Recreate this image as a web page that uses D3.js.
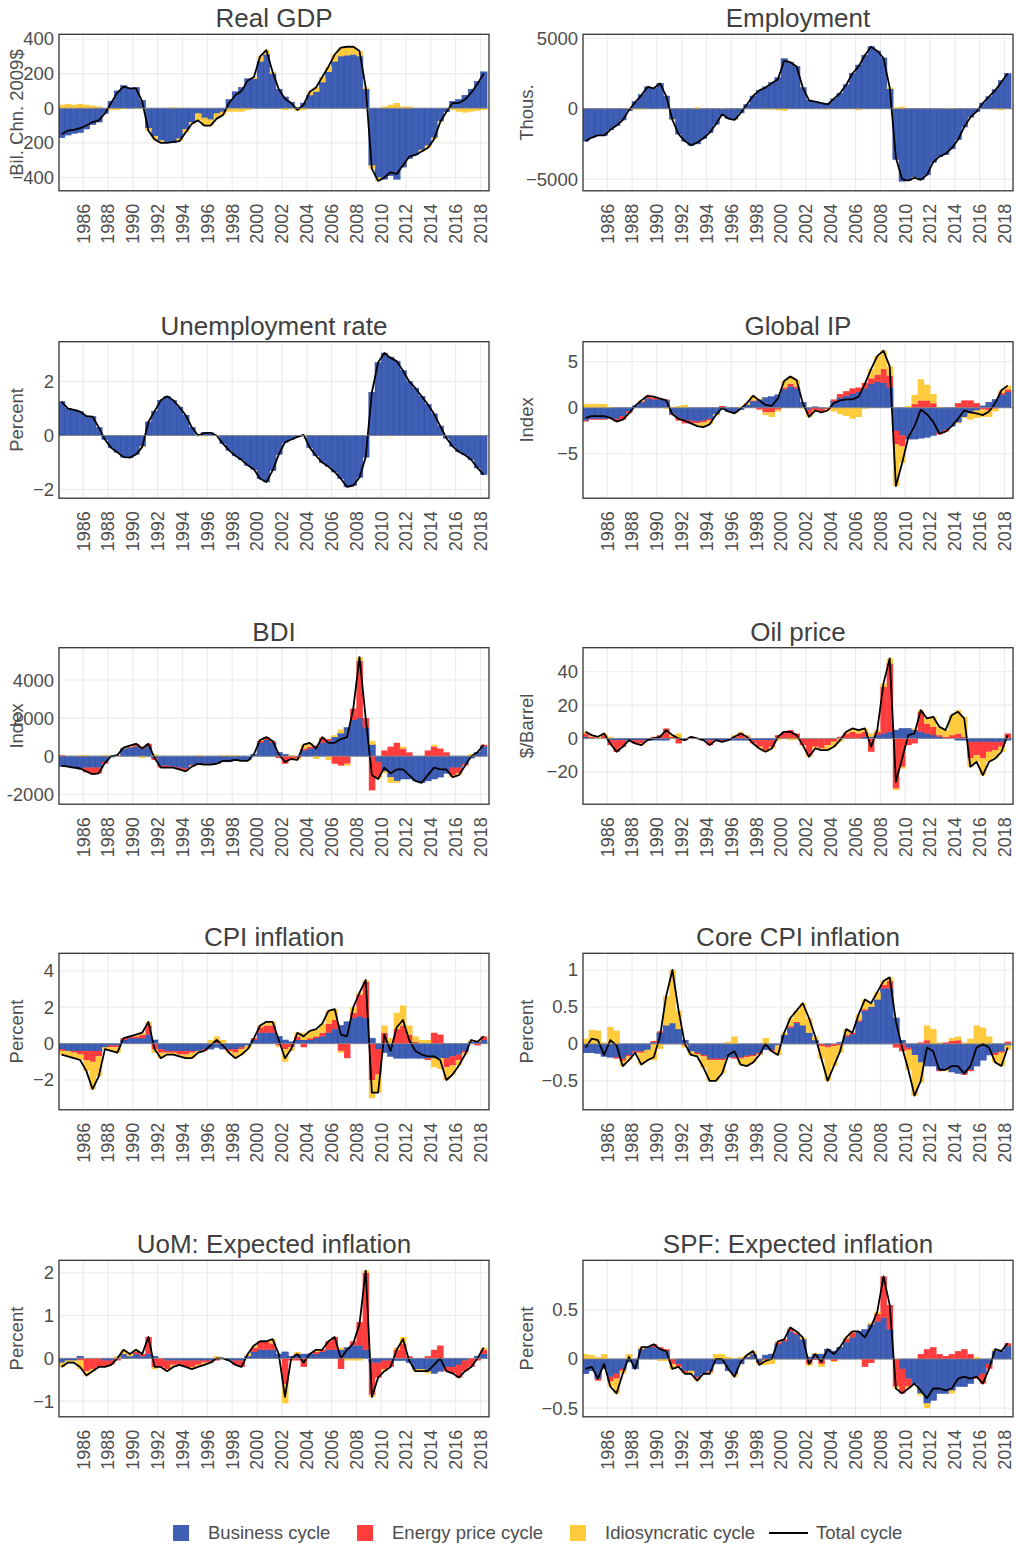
<!DOCTYPE html>
<html><head><meta charset="utf-8">
<script src="https://cdn.jsdelivr.net/npm/d3@7"></script>
<style>body{margin:0;background:#fff} text{font-family:"Liberation Sans",Arial,sans-serif}</style>
</head><body>
<svg id="chart" width="1016" height="1547"></svg>
<script>
// Half-year periods 1984H1 ... 2018H1
const periodStart = 1984, periodStep = 0.5, periodCount = 69;
const yearTicks = [1986,1988,1990,1992,1994,1996,1998,2000,2002,2004,2006,2008,2010,2012,2014,2016,2018];
const seriesNames = ["Business cycle","Energy price cycle","Idiosyncratic cycle","Total cycle"];

const gdpBusiness = [-170,-155,-145,-140,-120,-95,-80,-30,40,100, 130,115,120,45,-115,-160,-185,-195,-200,-175, -120,-80,-30,-55,-65,-30,-20,50,95,120, 170,170,270,310,200,110,65,35,5,30, 75,95,150,210,270,300,305,310,300,110, -330,-400,-410,-390,-410,-340,-290,-270,-240,-215, -170,-75,-20,40,50,75,110,155,210];
const gdpIdio = [20,25,20,25,20,15,10,0,-10,-10, -5,0,-5,-5,-15,-20,-15,-5,5,-15, -20,-10,-40,-45,-35,-30,-20,-20,-20,-20, -10,10,30,25,10,0,-10,-5,-15,-10, 20,25,30,30,40,50,50,45,30,10, -20,-20,10,20,30,10,10,0,-10,-15, -10,-5,0,-10,-20,-25,-20,-15,-10];

const empBusiness = [-2300,-2050,-1900,-1900,-1500,-1200,-800,-150,500,1000, 1550,1450,1800,900,-750,-1800,-2300,-2600,-2500,-2100, -1700,-1100,-450,-700,-750,-300,300,900,1300,1550, 1850,2200,3550,3300,3000,1500,600,500,400,350, 700,1100,1700,2500,3100,3800,4400,4100,3600,1400, -3600,-5150,-5100,-4850,-5050,-4700,-3800,-3400,-3250,-2850, -2200,-1300,-600,-200,400,850,1350,2000,2500];
const empIdio = [0,0,0,0,0,0,0,50,-50,-50, 0,0,0,0,-50,0,0,0,100,0, 0,0,50,0,-50,0,0,0,0,-50, -50,-100,-150,0,0,0,0,0,0,-50, 0,0,0,0,-100,0,0,0,0,100, 100,150,0,-50,0,0,0,0,50,50, 0,0,0,0,0,0,-50,-100,0];

const unempBusiness = [1.25,1.0,0.95,0.88,0.72,0.7,0.3,-0.15,-0.45,-0.62, -0.8,-0.82,-0.7,-0.4,0.5,0.9,1.3,1.45,1.3,1.05, 0.75,0.3,0.0,0.12,0.1,0.0,-0.3,-0.55,-0.75,-0.9, -1.1,-1.25,-1.6,-1.72,-1.3,-0.7,-0.25,-0.15,-0.05,0.0, -0.45,-0.75,-1.0,-1.15,-1.35,-1.6,-1.9,-1.85,-1.55,-0.8, 1.6,2.7,3.05,2.9,2.75,2.4,2.0,1.75,1.45,1.15, 0.8,0.35,-0.1,-0.4,-0.6,-0.72,-0.9,-1.2,-1.45];
const unempIdio = [0,0,0,0,0,0,0,0,0,0, 0,0,0,-0.03,0,0,0,0,0,0, 0,0,0,-0.03,0,0,0,0,0,0, 0,0,0,0,0,0,0,0,0,0.02, 0,0,0,0,0,0,0,0,0,0, 0,0,0,-0.03,0,0,0,0,0,0, 0,0,0,0,0,0,0,0,0];

const ipBusiness = [-1.4,-1.2,-1.2,-1.2,-1.1,-1.2,-0.9,-0.4,0.2,0.6, 1.0,0.9,0.9,0.8,-0.7,-1.1,-1.3,-1.4,-1.5,-1.4, -1.2,-0.7,-0.2,-0.4,-0.5,-0.2,0.3,0.7,0.9,1.1, 1.2,1.4,2.0,2.3,2.1,0.6,-0.2,0.1,-0.1,0.0, 0.7,1.1,1.3,1.5,1.7,2.1,2.6,2.8,2.7,2.2, -2.5,-3.0,-3.4,-3.4,-3.3,-3.2,-3.0,-2.7,-2.4,-2.0, -1.6,-1.0,-0.6,-0.3,0.2,0.6,0.9,1.4,1.7];
const ipEnergy = [-0.1,-0.1,-0.1,-0.1,-0.1,-0.3,-0.4,-0.2,0.0,0.1, 0.2,0.2,0.1,0.1,-0.1,-0.3,-0.4,-0.3,-0.2,-0.2, -0.2,0.0,0.2,0.0,0.0,0.0,0.0,0.1,-0.2,-0.5, -0.5,-0.2,0.2,0.3,0.2,0.0,-0.5,-0.3,-0.3,-0.2, 0.2,0.4,0.5,0.6,0.5,0.6,0.6,0.8,1.5,1.3, -1.5,-1.2,0.0,0.4,0.8,0.8,0.5,-0.2,-0.2,0.0, 0.5,0.8,0.8,0.5,-0.2,-0.3,-0.1,0.2,0.3];
const ipIdio = [0.4,0.4,0.4,0.4,0.1,0.0,0.0,0.0,0.0,0.1, 0.1,0.1,0.0,-0.1,0.1,0.2,0.3,0.0,-0.3,-0.5, -0.4,-0.1,0.0,0.0,-0.1,0.1,0.2,0.5,0.1,-0.3, -0.5,-0.2,0.7,0.8,0.7,-0.1,-0.3,-0.1,-0.1,-0.1, -0.4,-0.7,-0.9,-1.2,-1.0,-0.1,1.0,2.0,2.0,1.0, -4.5,-1.8,0.2,1.0,2.3,1.7,1.0,0.1,0.0,0.0, -0.1,-0.1,-0.7,-0.8,-0.8,-0.7,-0.3,0.3,0.4];

const bdiBusiness = [-550,-550,-620,-650,-600,-600,-600,-300,-50,0, 400,450,500,400,500,-100,-500,-500,-550,-600, -650,-450,-450,-400,-400,-400,-300,-300,-200,-200, -200,100,700,850,700,200,100,0,0,300, 400,500,700,800,1000,1200,1500,1900,2000,1500, 600,-300,-800,-1100,-1300,-1200,-1200,-1300,-1400,-1300, -1200,-1100,-900,-600,-600,-400,-100,200,500];
const bdiEnergy = [50,0,0,-50,-250,-350,-300,-100,0,50, 0,50,150,100,150,-100,-100,-100,-50,-100, -100,-50,0,-50,-50,0,0,0,-50,-50, 0,0,100,150,100,-100,-400,-200,-100,100, 100,50,250,100,-400,-500,-400,600,3000,500, -1800,-800,300,500,700,400,200,0,0,300, 500,400,200,-400,-300,-100,0,0,100];
const bdiIdio = [0,0,20,50,50,0,0,50,50,0, 50,50,0,-100,0,100,0,0,0,0, -50,-50,50,0,0,0,50,50,50,0, -50,0,50,0,0,0,0,50,-100,200, 200,-150,50,-200,100,200,-100,0,200,0, 200,-100,-100,-300,-100,100,0,0,0,0, 100,0,0,-100,-100,0,100,0,0];

const oilBusiness = [1,0,0,0,-1,-1,-1,-1,-1,-1, -1,-1,-1,-1,0,0,0,0,0,-1, -1,-1,-1,-1,-1,-1,-1,-1,-1,-1, -1,0,0,0,0,0,0,0,0,0, 0,0,0,0,0,1,1,2,3,4, 5,6,6,5,4,3,2,1,0,0, -1,-1,-2,-2,-2,-2,-2,-2,-1];
const oilEnergy = [2,1,0,2,-3,-7,-4,0,-2,-2, 0,1,2,6,1,-3,-1,1,0,0, -3,0,-1,0,1,3,1,-2,-4,-6, -4,2,4,5,3,-4,-10,-5,-6,-4, -2,1,3,4,3,3,-8,2,28,41, -30,-17,-4,-3,12,6,5,1,1,2, 3,1,-10,-8,-10,-6,-5,-3,3];
const oilIdio = [1,1,1,1,1,0,0,0,0,-1, 0,0,0,0,1,3,0,0,0,0, 0,0,0,0,1,1,1,0,-1,-1, -1,-1,0,-1,-1,0,-1,-1,-1,-3, -3,-2,1,2,2,2,2,1,2,3, -1,-1,0,1,1,3,6,5,4,12, 14,12,-5,-4,-10,-6,-5,-3,0];

const cpiBusiness = [-0.3,-0.4,-0.4,-0.4,-0.4,-0.4,-0.4,-0.2,-0.1,-0.1, 0.2,0.3,0.3,0.3,0.5,0.2,-0.3,-0.4,-0.4,-0.4, -0.4,-0.4,-0.4,-0.3,-0.3,-0.2,-0.3,-0.3,-0.3,-0.2, -0.1,0.2,0.6,0.6,0.6,0.4,0.2,0.1,0.2,0.2, 0.2,0.3,0.4,0.6,0.8,1.0,1.2,1.4,1.5,1.4, 0.3,-0.3,-0.5,-0.7,-0.8,-0.8,-0.8,-0.8,-0.8,-0.8, -0.8,-0.8,-0.8,-0.7,-0.6,-0.4,0.1,0.1,0.2];
const cpiEnergy = [-0.1,0.0,-0.1,-0.2,-0.5,-0.6,-0.3,0.0,-0.1,-0.1, 0.1,0.1,0.1,0.2,0.5,-0.3,-0.2,-0.1,-0.1,-0.2, -0.2,-0.1,0.0,-0.1,0.0,0.1,0.0,-0.1,-0.2,-0.1, 0.0,0.1,0.3,0.4,0.4,-0.1,-0.3,-0.2,0.2,-0.2, 0.1,0.1,0.2,0.5,0.5,-0.4,-0.8,0.3,1.2,2.0, -2.0,-1.4,0.6,0.0,0.8,1.0,0.5,0.1,0.0,-0.1, 0.6,0.5,-0.5,-0.5,-0.3,-0.1,0.0,-0.1,0.2];
const cpiIdio = [-0.2,-0.3,-0.3,-0.3,-0.6,-1.5,-1.1,-0.1,-0.2,-0.3, 0.0,0.0,0.1,0.1,0.2,-0.2,-0.3,-0.1,-0.1,-0.1, -0.2,-0.3,-0.1,0.0,0.2,0.3,0.2,-0.1,-0.3,-0.3, -0.2,0.0,0.1,0.2,0.2,-0.1,-0.7,-0.2,0.2,0.4, 0.4,0.4,0.5,0.7,0.6,-0.1,0.0,0.3,0.1,0.1, -1.0,-1.0,0.4,0.3,0.9,1.1,0.5,0.3,0.2,0.2, -0.5,-0.6,-0.7,-0.5,-0.3,-0.1,0.1,0.1,0.0];

const coreBusiness = [-0.12,-0.12,-0.13,-0.17,-0.18,-0.18,-0.2,-0.15,-0.1,-0.1, -0.08,0.02,0.15,0.25,0.28,0.2,0.05,-0.1,-0.12,-0.15, -0.2,-0.2,-0.2,-0.18,-0.18,-0.18,-0.16,-0.15,-0.12,-0.08, -0.08,-0.02,0.12,0.22,0.28,0.25,0.15,0.05,0.0,-0.02, 0.0,0.02,0.1,0.13,0.3,0.45,0.5,0.6,0.75,0.75, 0.35,0.05,-0.05,-0.15,-0.25,-0.3,-0.3,-0.35,-0.35,-0.38, -0.4,-0.4,-0.35,-0.3,-0.22,-0.15,-0.12,-0.1,-0.02];
const coreEnergy = [0,0,0,0,0,-0.02,-0.03,-0.02,-0.02,-0.02, 0,0.02,0.02,0,0,0,-0.02,0,-0.02,-0.02, -0.02,-0.02,-0.02,0,-0.02,-0.02,-0.02,-0.02,-0.02,0, -0.02,0,0,0.02,0.02,0,0,0,-0.03,-0.03, -0.03,-0.02,0.02,0.02,0.02,0.02,0,0,0.05,0.1, -0.05,-0.1,-0.03,0,0.02,0.05,0,-0.02,0.02,0.04, 0.05,-0.02,-0.02,0,0,0,-0.03,-0.02,0.03];
const coreIdio = [0.07,0.19,0.18,0.02,0.23,0.18,-0.07,-0.05,0,-0.16, -0.14,-0.22,-0.07,0.4,0.72,0.25,-0.03,-0.05,-0.03,-0.15, -0.28,-0.28,-0.18,0.03,0.1,-0.08,-0.12,-0.08,-0.01,0.08, 0,-0.13,0.03,0.11,0.15,0.3,0.2,0.05,-0.17,-0.45, -0.27,-0.1,0.08,0,0.08,0.13,0.05,0.1,0.05,0.05, 0,0,-0.27,-0.55,-0.27,0.2,0.2,0.02,-0.02,0.04, 0.05,0.02,0.07,0.25,0.22,0.1,-0.1,-0.18,-0.06];

const uomBusiness = [-0.1,-0.05,-0.05,0.05,0,0,0,-0.05,-0.05,0, 0.1,0.05,0.1,0.05,0.1,0.05,0,-0.05,-0.05,-0.05, -0.05,-0.05,-0.05,-0.05,-0.05,0,0,-0.05,-0.05,-0.05, 0.05,0.15,0.2,0.2,0.2,0.1,0.15,0.05,0.1,0.1, 0.1,0.1,0.15,0.2,0.2,0.2,0.25,0.3,0.3,0.2, -0.1,-0.1,-0.05,-0.05,-0.05,-0.05,-0.1,-0.25,-0.25,-0.3, -0.35,-0.3,-0.2,-0.2,-0.15,-0.05,0,0.05,0.1];
const uomEnergy = [0,0,0,-0.05,-0.3,-0.25,-0.2,-0.15,-0.1,-0.05, 0,0,0.05,0.05,0.4,-0.2,-0.2,-0.2,-0.1,-0.1, -0.15,-0.15,-0.1,-0.05,-0.05,-0.05,0,0,-0.1,-0.15, 0,0.1,0.2,0.2,0.15,0,-0.6,-0.05,-0.05,-0.2, 0,0.05,0.05,0.2,0.3,-0.25,0,0.1,0.55,1.8, -0.75,-0.35,-0.2,-0.15,0.2,0.35,0.05,0,0,0.05, 0.2,0.3,-0.1,-0.15,-0.3,-0.25,-0.2,-0.05,0.1];
const uomIdio = [-0.1,-0.05,-0.05,-0.2,-0.1,-0.05,0,0,0,0.05, 0.1,0.05,0.05,0,0,-0.05,0,-0.05,-0.05,0, 0,-0.05,-0.05,-0.05,0,0.05,0,0,0,0, 0.05,0.05,0,0,0.1,0,-0.45,0,0.05,0, 0,0.05,0,0,0,0.05,-0.05,-0.05,-0.05,0.05, -0.05,0,-0.05,0,0.05,0.15,0,-0.05,-0.05,-0.05, 0,0,0,0,0,0,0,0,0.05];

const spfBusiness = [-0.15,-0.12,-0.2,-0.1,-0.18,-0.15,-0.1,-0.03,-0.1,0.1, 0.12,0.12,0.1,0.08,0,-0.05,-0.12,-0.12,-0.18,-0.15, -0.12,-0.05,-0.05,-0.12,-0.15,-0.05,0.02,0.05,-0.03,0.04, 0.05,0.15,0.18,0.28,0.25,0.2,0.02,0.05,0.05,0.1, 0.08,0.12,0.17,0.22,0.28,0.3,0.35,0.38,0.42,0.3, 0,-0.1,-0.2,-0.25,-0.35,-0.45,-0.42,-0.35,-0.35,-0.32, -0.28,-0.28,-0.25,-0.18,-0.15,-0.05,0.08,0.08,0.13];
const spfEnergy = [0,0,-0.02,0,-0.05,-0.05,-0.02,0,0,0, 0,0.03,0.02,0.02,-0.05,-0.03,-0.02,0,-0.02,0, -0.01,0,0,0,-0.01,0,0,0,-0.01,-0.01, 0,0.02,0.02,0.03,0.02,0,-0.05,-0.01,-0.05,0, -0.02,0,0.04,0.05,0,-0.08,-0.04,0.08,0.42,0.25, -0.28,-0.25,-0.08,0,0.05,0.1,0.12,0.05,0.03,0.05, 0.08,0.1,0.05,-0.02,-0.1,-0.05,0,0,0.03];
const spfIdio = [0.05,0.04,0.02,0.05,-0.05,-0.15,-0.03,0.05,0,0.02, 0,0,-0.02,-0.02,-0.05,0,-0.01,-0.03,-0.02,0, -0.02,0.05,0.05,0.02,-0.02,0.02,0.02,0.03,-0.02,-0.05, -0.05,0.01,0,0.01,0.01,0.02,-0.02,0.01,-0.03,0, -0.01,0,0.01,0.01,0,0,0.02,0.02,0,0, -0.02,0,-0.02,0,-0.02,-0.05,0,0,0,-0.03, 0,0,0,0.02,0,0,0.02,0,0];

const panels = [
  {title:"Real GDP", ylab:"Bil. Chn. 2009$", bc:gdpBusiness, en:null, id:gdpIdio, domain:[-477,427], ticks:[-400,-200,0,200,400], row:0, col:0},
  {title:"Employment", ylab:"Thous.", bc:empBusiness, en:null, id:empIdio, domain:[-5830,5284], ticks:[-5000,0,5000], row:0, col:1},
  {title:"Unemployment rate", ylab:"Percent", bc:unempBusiness, en:null, id:unempIdio, domain:[-2.32,3.47], ticks:[-2,0,2], row:1, col:0},
  {title:"Global IP", ylab:"Index", bc:ipBusiness, en:ipEnergy, id:ipIdio, domain:[-9.82,7.17], ticks:[-5,0,5], row:1, col:1},
  {title:"BDI", ylab:"Index", bc:bdiBusiness, en:bdiEnergy, id:bdiIdio, domain:[-2526,5700], ticks:[-2000,0,2000,4000], row:2, col:0, hyphen:true},
  {title:"Oil price", ylab:"$/Barrel", bc:oilBusiness, en:oilEnergy, id:oilIdio, domain:[-39.4,54.4], ticks:[-20,0,20,40], row:2, col:1},
  {title:"CPI inflation", ylab:"Percent", bc:cpiBusiness, en:cpiEnergy, id:cpiIdio, domain:[-3.64,4.97], ticks:[-2,0,2,4], row:3, col:0},
  {title:"Core CPI inflation", ylab:"Percent", bc:coreBusiness, en:coreEnergy, id:coreIdio, domain:[-0.892,1.226], ticks:[-0.5,0,0.5,1], row:3, col:1},
  {title:"UoM: Expected inflation", ylab:"Percent", bc:uomBusiness, en:uomEnergy, id:uomIdio, domain:[-1.365,2.29], ticks:[-1,0,1,2], row:4, col:0},
  {title:"SPF: Expected inflation", ylab:"Percent", bc:spfBusiness, en:spfEnergy, id:spfIdio, domain:[-0.588,1.004], ticks:[-0.5,0,0.5], row:4, col:1}
];

const colors = {bc:"#3F5FB5", en:"#FF3D3D", id:"#FFCB3D"};
const cols = [{x0:59, x1:489, labX:17}, {x0:583, x1:1013, labX:527}];
const rowTops = [34.3, 341.7, 647.7, 953.3, 1260.3];
const plotH = 156.5;
const textCol = "#4d4d4d";

const svg = d3.select("#chart");
const defs = svg.append("defs");

panels.forEach((p, pi) => {
  const c = cols[p.col], top = rowTops[p.row], bottom = top + plotH;
  const x = d3.scaleLinear().domain([1984.05, 2018.68]).range([c.x0, c.x1]);
  const y = d3.scaleLinear().domain(p.domain).range([bottom, top]);
  const rows = d3.range(periodCount).map(i => ({
    t: periodStart + i * periodStep,
    bc: p.bc[i], en: p.en ? p.en[i] : 0, id: p.id[i]
  }));
  const g = svg.append("g");
  defs.append("clipPath").attr("id", "clip" + pi).append("rect")
    .attr("x", c.x0).attr("y", top).attr("width", c.x1 - c.x0).attr("height", plotH);

  // grid
  g.selectAll(".vg").data(yearTicks).join("line")
    .attr("x1", d => x(d)).attr("x2", d => x(d)).attr("y1", top).attr("y2", bottom)
    .attr("stroke", "#ebebeb").attr("stroke-width", 1.1);
  g.selectAll(".hg").data(p.ticks).join("line")
    .attr("x1", c.x0).attr("x2", c.x1).attr("y1", d => y(d)).attr("y2", d => y(d))
    .attr("stroke", "#ebebeb").attr("stroke-width", 1.1);

  // stacked bars
  const stack = d3.stack().keys(["bc","en","id"]).offset(d3.stackOffsetDiverging)(rows);
  const bars = g.append("g").attr("clip-path", `url(#clip${pi})`);
  stack.forEach(layer => {
    const key = layer.key;
    bars.append("g").selectAll("rect").data(layer.filter(d => d[1] !== d[0])).join("rect")
      .attr("x", d => x(d.data.t))
      .attr("width", d => x(d.data.t + periodStep) - x(d.data.t) + 0.3)
      .attr("y", d => y(Math.max(d[0], d[1])))
      .attr("height", d => Math.abs(y(d[0]) - y(d[1])))
      .attr("fill", colors[key])
      .attr("stroke", key === "bc" ? "#2A48A3" : "none")
      .attr("stroke-width", key === "bc" ? 0.5 : 0);
  });

  // zero line
  g.append("line").attr("x1", c.x0).attr("x2", c.x1).attr("y1", y(0)).attr("y2", y(0))
    .attr("stroke", "#8a8a8a").attr("stroke-width", 0.8);

  // total line
  const line = d3.line().x(d => x(d.t + periodStep / 2)).y(d => y(d.bc + d.en + d.id));
  bars.append("path").datum(rows).attr("d", line)
    .attr("fill", "none").attr("stroke", "#000").attr("stroke-width", 1.8)
    .attr("stroke-linejoin", "round");

  // border
  g.append("rect").attr("x", c.x0).attr("y", top).attr("width", c.x1 - c.x0).attr("height", plotH)
    .attr("fill", "none").attr("stroke", "#333").attr("stroke-width", 1.3);

  // y tick labels
  const minus = p.hyphen ? "-" : "\u2212";
  g.selectAll(".yt").data(p.ticks).join("text")
    .attr("x", c.x0 - 5).attr("y", d => y(d)).attr("dy", "0.35em")
    .attr("text-anchor", "end").attr("font-size", 18.5).attr("fill", textCol)
    .text(d => d < 0 ? minus + Math.abs(d) : String(d));

  // x tick labels (rotated)
  g.selectAll(".xt").data(yearTicks).join("text")
    .attr("transform", d => `translate(${x(d)},${bottom + 13}) rotate(-90)`)
    .attr("dy", "0.35em").attr("text-anchor", "end")
    .attr("font-size", 18).attr("fill", textCol)
    .text(d => d);

  // title
  g.append("text").attr("x", (c.x0 + c.x1) / 2).attr("y", top - 7)
    .attr("text-anchor", "middle").attr("font-size", 26).attr("fill", "#404040")
    .text(p.title);

  // y axis label
  g.append("text").attr("transform", `translate(${c.labX},${top + plotH / 2}) rotate(-90)`)
    .attr("dy", "0.35em").attr("text-anchor", "middle")
    .attr("font-size", 18.5).attr("fill", textCol)
    .text(p.ylab);
});

// legend
const legY = 1533;
const legend = svg.append("g");
const legItems = [
  {name: seriesNames[0], type: "box", color: colors.bc, x: 173},
  {name: seriesNames[1], type: "box", color: colors.en, x: 357},
  {name: seriesNames[2], type: "box", color: colors.id, x: 570},
  {name: seriesNames[3], type: "line", color: "#000", x: 769}
];
legItems.forEach(it => {
  if (it.type === "box") {
    legend.append("rect").attr("x", it.x).attr("y", legY - 8).attr("width", 16).attr("height", 16).attr("fill", it.color);
    legend.append("text").attr("x", it.x + 35).attr("y", legY).attr("dy", "0.35em")
      .attr("font-size", 18.5).attr("fill", textCol).text(it.name);
  } else {
    legend.append("line").attr("x1", it.x).attr("x2", it.x + 39).attr("y1", legY).attr("y2", legY)
      .attr("stroke", it.color).attr("stroke-width", 1.8);
    legend.append("text").attr("x", it.x + 47).attr("y", legY).attr("dy", "0.35em")
      .attr("font-size", 18.5).attr("fill", textCol).text(it.name);
  }
});
</script>
</body></html>
